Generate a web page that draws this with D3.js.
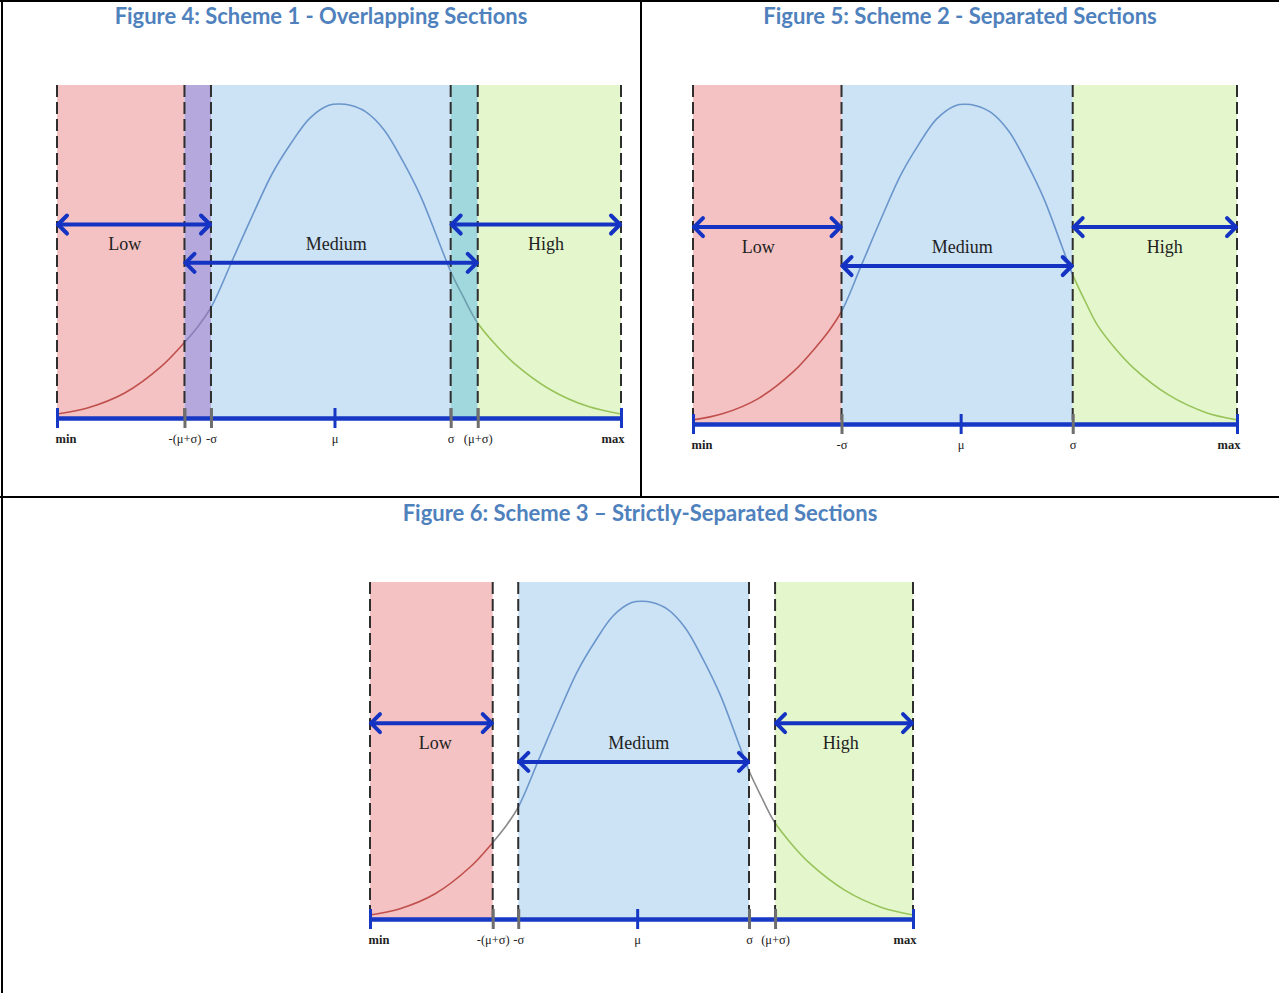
<!DOCTYPE html>
<html><head><meta charset="utf-8">
<script src="https://cdn.jsdelivr.net/npm/d3@7"></script>
<style>body{margin:0;background:#fff}svg{display:block}</style>
</head><body><svg id="c" width="1279" height="993"></svg>
<script>
// ---------------- data ----------------
const titles = [
  "Figure 4: Scheme 1 - Overlapping Sections",
  "Figure 5: Scheme 2 - Separated Sections",
  "Figure 6: Scheme 3 \u2013 Strictly-Separated Sections"
];
const sectionNames = ["Low", "Medium", "High"];
// tick positions on a 0..100 scale from min to max
const tickLabelsOverlap = ["min", "-(\u03bc+\u03c3)", "-\u03c3", "\u03bc", "\u03c3", "(\u03bc+\u03c3)", "max"];
const tickValuesOverlap = [0, 22.6, 27.3, 49.2, 69.8, 74.6, 100];
const tickLabelsSeparated = ["min", "-\u03c3", "\u03bc", "\u03c3", "max"];
const tickValuesSeparated = [0, 27.3, 49.2, 69.8, 100];
// distribution curve (x: 0..100, height: 0..100 of the panel)
const curveX = [0, 5.4, 12, 18.5, 22.5, 25, 27.4, 31, 34.3, 38.2, 41.5, 44.8, 48.2, 50.1, 52, 54.7, 58, 61.2, 64.5, 67.8, 69.8, 72, 74.4, 77.5, 81, 87.5, 94.1, 100];
const curveY = [1.2, 3, 7.5, 15.5, 22.5, 27.5, 33.5, 47, 59.5, 73.5, 82.5, 90, 93.9, 94.3, 93.9, 92, 86.5, 77.5, 66.5, 52.5, 44, 36.5, 29, 22.5, 16.5, 8.5, 3.5, 1.2];
// section boundaries per scheme
const boundsScheme1 = [0, 22.6, 27.3, 69.8, 74.6, 100];
const boundsScheme2 = [0, 27.3, 69.8, 100];
const boundsScheme3 = [0, 22.6, 27.3, 69.8, 74.6, 100];
// arrow ranges [Low, Medium, High]
const rangesScheme1 = [[0, 27.3], [22.6, 74.6], [69.8, 100]];
const rangesScheme2 = [[0, 27.3], [27.3, 69.8], [69.8, 100]];
const rangesScheme3 = [[0, 22.6], [27.3, 69.8], [74.6, 100]];
const labelPos = [12, 49.5, 86.7];

// ---------------- styles ----------------
const C = {
  pink: "#f4c2c2", purple: "#b4a8dd", blue: "#cce2f5", teal: "#a0d8de", green: "#e4f7cc", none: "none",
  cRed: "#c0504d", cBlue: "#6a96cc", cGreen: "#98c35a", cPurp: "#8a80b8", cTeal: "#6f9eae", cGrey: "#8a8a8a",
  axis: "#1638c4", arrow: "#1433c2", tickGrey: "#6e6e6e", title: "#4f81bd"
};

const svg = d3.select("#c");
svg.append("rect").attr("width", 1279).attr("height", 993).attr("fill", "#fff");

const figs = [
  { title: titles[0], tx: 321, ty: 24, tw: 413, x0: 57, x1: 621, top: 85, axisY: 418,
    bounds: boundsScheme1, fills: [C.pink, C.purple, C.blue, C.teal, C.green],
    curveCols: [C.cRed, C.cPurp, C.cBlue, C.cTeal, C.cGreen],
    ticks: tickValuesOverlap, labels: tickLabelsOverlap, ranges: rangesScheme1 },
  { title: titles[1], tx: 960, ty: 24, tw: 394, x0: 693, x1: 1237, top: 85, axisY: 424,
    bounds: boundsScheme2, fills: [C.pink, C.blue, C.green],
    curveCols: [C.cRed, C.cBlue, C.cGreen],
    ticks: tickValuesSeparated, labels: tickLabelsSeparated, ranges: rangesScheme2 },
  { title: titles[2], tx: 640, ty: 521, tw: 475, x0: 370, x1: 913, top: 582, axisY: 919,
    bounds: boundsScheme3, fills: [C.pink, C.none, C.blue, C.none, C.green],
    curveCols: [C.cRed, C.cGrey, C.cBlue, C.cGrey, C.cGreen],
    ticks: tickValuesOverlap, labels: tickLabelsOverlap, ranges: rangesScheme3 }
];

const curvePts = curveX.map((x, i) => [x, curveY[i]]);

figs.forEach((f, fi) => {
  const g = svg.append("g");
  const x = d3.scaleLinear().domain([0, 100]).range([f.x0, f.x1]);
  const y = d3.scaleLinear().domain([0, 100]).range([f.axisY, f.top]);

  // title
  const t = g.append("text").attr("x", f.tx).attr("y", f.ty).attr("text-anchor", "middle")
    .attr("font-family", "Lato, 'Open Sans', sans-serif").attr("font-weight", "bold")
    .attr("font-size", 20).attr("fill", C.title).text(f.title);
  const len = t.node().getComputedTextLength();
  if (len > 0) t.attr("font-size", 20 * f.tw / len);

  // section fills
  for (let i = 0; i < f.bounds.length - 1; i++) {
    if (f.fills[i] === "none") continue;
    g.append("rect").attr("x", x(f.bounds[i])).attr("y", y(100))
      .attr("width", x(f.bounds[i + 1]) - x(f.bounds[i])).attr("height", y(0) - y(100))
      .attr("fill", f.fills[i]);
  }

  // curve, coloured by section via clip paths
  const line = d3.line().x(d => x(d[0])).y(d => y(d[1])).curve(d3.curveCatmullRom.alpha(0.5));
  for (let i = 0; i < f.bounds.length - 1; i++) {
    const id = `clip${fi}_${i}`;
    g.append("clipPath").attr("id", id).append("rect")
      .attr("x", x(f.bounds[i])).attr("y", y(100) - 5)
      .attr("width", x(f.bounds[i + 1]) - x(f.bounds[i])).attr("height", y(0) - y(100) + 10);
    g.append("path").datum(curvePts).attr("d", line).attr("fill", "none")
      .attr("stroke", f.curveCols[i]).attr("stroke-width", 1.6).attr("clip-path", `url(#${id})`);
  }

  // dashed dividers
  f.ticks.forEach((v, i) => {
    if (f.labels[i] === "\u03bc") return;
    g.append("line").attr("x1", x(v)).attr("x2", x(v)).attr("y1", y(100)).attr("y2", y(0))
      .attr("stroke", "#2e2e2e").attr("stroke-width", 2).attr("stroke-dasharray", "12,5");
  });

  // arrows
  const arrowY = [58.1, 46.6, 58.1];
  f.ranges.forEach((r, i) => {
    const ay = y(arrowY[i]);
    const xa = x(r[0]), xb = x(r[1]);
    const ag = g.append("g").attr("stroke", C.arrow).attr("stroke-width", 4)
      .attr("fill", "none").attr("stroke-linecap", "round").attr("stroke-linejoin", "round");
    ag.append("line").attr("x1", xa + 1).attr("x2", xb - 1).attr("y1", ay).attr("y2", ay);
    ag.append("path").attr("d", `M${xa + 10},${ay - 9}L${xa + 1},${ay}L${xa + 10},${ay + 9}`);
    ag.append("path").attr("d", `M${xb - 10},${ay - 9}L${xb - 1},${ay}L${xb - 10},${ay + 9}`);
    g.append("text").attr("x", x(labelPos[i])).attr("y", y(52.4)).attr("dy", "0.35em")
      .attr("text-anchor", "middle").attr("font-family", "'Liberation Serif', 'DejaVu Serif', serif")
      .attr("font-size", 18).attr("fill", "#222").text(sectionNames[i]);
  });

  // axis
  const axis = d3.axisBottom(x).tickValues(f.ticks)
    .tickFormat((d, i) => f.labels[i]).tickSizeInner(10).tickSizeOuter(0).tickPadding(6);
  const ax = g.append("g").attr("transform", `translate(0,${f.axisY})`).call(axis);
  ax.select(".domain").attr("stroke", C.axis).attr("stroke-width", 4.5);
  ax.selectAll(".tick line").attr("y1", -10).attr("y2", 10).attr("stroke-width", 3)
    .attr("stroke", (d, i) => (f.labels[i] === "min" || f.labels[i] === "max" || f.labels[i] === "\u03bc") ? C.axis : C.tickGrey);
  ax.selectAll(".tick text").attr("font-family", "'Liberation Serif', 'DejaVu Serif', serif")
    .attr("font-size", 12.5).attr("fill", "#222")
    .attr("font-weight", (d, i) => (f.labels[i] === "min" || f.labels[i] === "max") ? "bold" : "normal")
    .attr("text-anchor", (d, i) => f.labels[i] === "min" ? "start" : f.labels[i] === "max" ? "end" : "middle")
    .attr("x", (d, i) => f.labels[i] === "min" ? -2 : f.labels[i] === "max" ? 3 : 0);
});

// table borders
const b = svg.append("g").attr("stroke", "#000").attr("stroke-width", 2);
b.append("line").attr("x1", 0).attr("x2", 1279).attr("y1", 1).attr("y2", 1);
b.append("line").attr("x1", 2).attr("x2", 2).attr("y1", 0).attr("y2", 993);
b.append("line").attr("x1", 641).attr("x2", 641).attr("y1", 0).attr("y2", 497);
b.append("line").attr("x1", 0).attr("x2", 1279).attr("y1", 497).attr("y2", 497);
</script></body></html>
